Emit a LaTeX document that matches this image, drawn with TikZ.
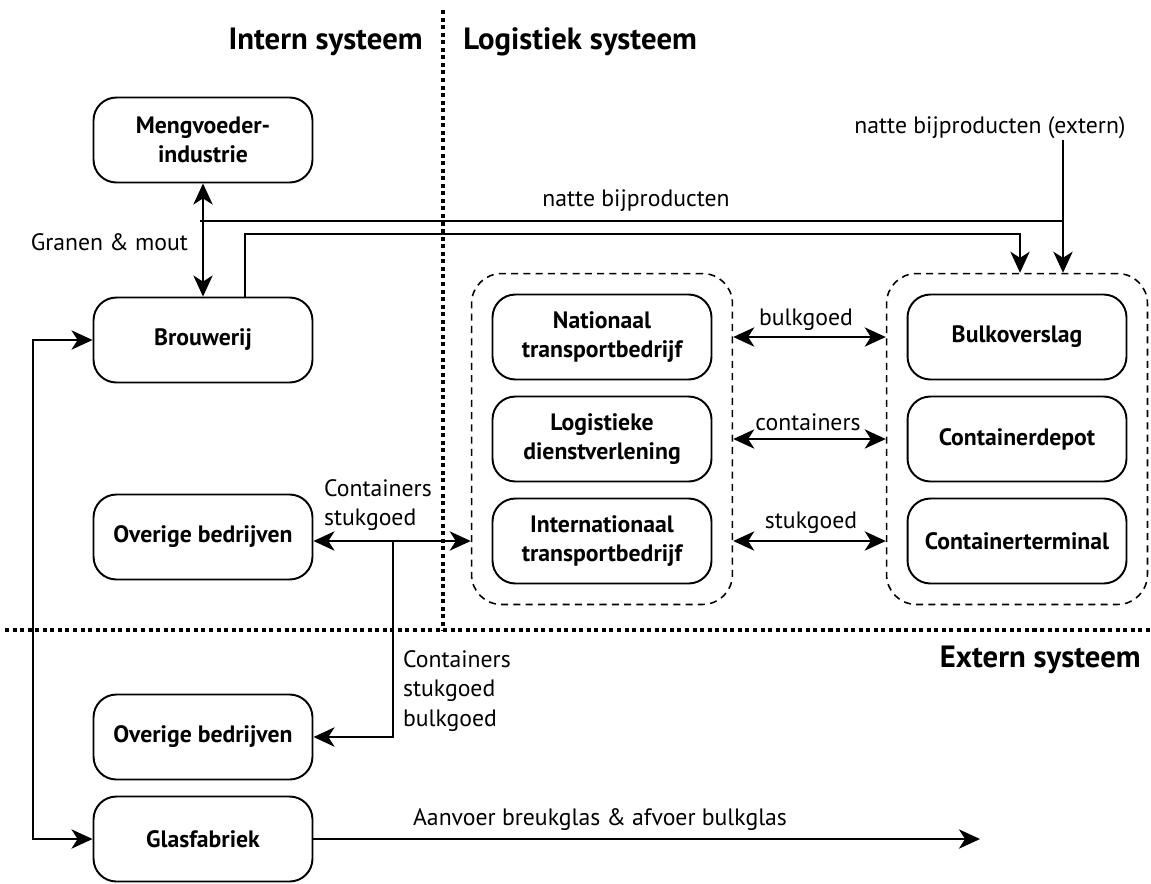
\documentclass[tikz,border=0pt]{standalone}
\usepackage{fontspec}
\setmainfont{PT Sans}
\usetikzlibrary{positioning, arrows.meta, fit}

\begin{document}
\begin{tikzpicture}[x=0.02cm, y=-0.02cm]
\tikzstyle{unit}=[rectangle, draw=black, line width=1.1pt, rounded corners=13pt,
        minimum width=4.38cm, minimum height=1.7cm, align=center,
        text=black, font=\bfseries\fontsize{13.5}{16.5}\selectfont]
\tikzstyle{group}=[draw=black, line width=0.9pt, dash pattern=on 4pt off 3pt,
        rounded corners=17pt, inner sep=0.4cm]
\tikzstyle{label}=[font=\fontsize{13.5}{17}\selectfont, inner sep=1pt]
\tikzstyle{title}=[font=\bfseries\fontsize{17.5}{21}\selectfont, inner sep=0pt]
\tikzstyle{border}=[line width=1.8pt, dash pattern=on 2.3pt off 2pt]
\tikzstyle{flow}=[-{Stealth[length=12pt, width=11pt, inset=3.5pt]}, line width=1.1pt]
\tikzstyle{both}=[{Stealth[length=12pt, width=11pt, inset=3.5pt]}-{Stealth[length=12pt, width=11pt, inset=3.5pt]}, line width=1.1pt]

\def \lx {203}
\def \mx {602}
\def \rx {1017}

\useasboundingbox (0,0) rectangle (1151,883);

\draw[border] (443,10) -- (443,630);
\draw[border] (5,630) -- (1151,630);

\node (intern) [title, anchor=east] at (423,42) {Intern systeem};
\node (logist) [title, anchor=west] at (463,42) {Logistiek systeem};
\node (extern) [title, anchor=east] at (1141,660) {Extern systeem};

    \node (meng) [unit] at (\lx,140) {Mengvoeder-\\industrie};
    \node (brou) [unit] at (\lx,340) {Brouwerij};
    \node (ov1) [unit] at (\lx,537) {Overige bedrijven};
    \node (ov2) [unit] at (\lx,737) {Overige bedrijven};
    \node (glas) [unit] at (\lx,839) {Glasfabriek};

    \node (nat) [unit] at (\mx,337) {Nationaal\\transportbedrijf};
    \node (log) [unit] at (\mx,439) {Logistieke\\dienstverlening};
    \node (int) [unit] at (\mx,541) {Internationaal\\transportbedrijf};

    \node (bulk) [unit] at (\rx,337) {Bulkoverslag};
    \node (depot) [unit] at (\rx,439) {Containerdepot};
    \node (term) [unit] at (\rx,541) {Containerterminal};

    \node (lgroup) [group, fit=(nat) (int)] {};
    \node (rgroup) [group, fit=(bulk) (term)] {};

    \node (granen) [label, anchor=east] at (190,242) {Granen \& mout};
    \node (natte) [label] at (636,201) {natte bijproducten};
    \node (nattex) [label] at (990,128) {natte bijproducten (extern)};
    \node (lbulk) [label] at (806,320) {bulkgoed};
    \node (lcont) [label] at (808,422) {containers};
    \node (lstuk) [label] at (811,523) {stukgoed};
    \node (lov1) [label, align=left, anchor=south west] at (322,533) {Containers\\stukgoed};
    \node (lov2) [label, align=left, anchor=north west] at (401,648) {Containers\\stukgoed\\bulkgoed};
    \node (lglas) [label] at (600,820) {Aanvoer breukglas \& afvoer bulkglas};

\coordinate (wet) at (200,221);
\coordinate (wetjoin) at (1063,221);
\coordinate (ext) at (1063,140);
\coordinate (split) at (393,541);
\coordinate (glasend) at (980,839);

\path[both] (meng.south) edge (brou.north);
\draw[line width=1.1pt] (wet) -- (wetjoin);
\draw[flow] (ext) -- (ext |- rgroup.north);
\draw[flow] ([xshift=0.84cm]brou.north) -- ++(0,-63) -| (rgroup.north -| 1020,0);

\draw[both] (nat.east -| lgroup.east) -- (nat.east -| rgroup.west);
\draw[both] (log.east -| lgroup.east) -- (log.east -| rgroup.west);
\draw[both] (int.east -| lgroup.east) -- (int.east -| rgroup.west);

\draw[both] (ov1.east |- split) -- (split -| lgroup.west);
\draw[flow] (split) |- (ov2.east);
\draw[both] (brou.west) -- ++(-60,0) |- (glas.west);
\draw[flow] (glas.east) -- (glasend);

\end{tikzpicture}
\end{document}
